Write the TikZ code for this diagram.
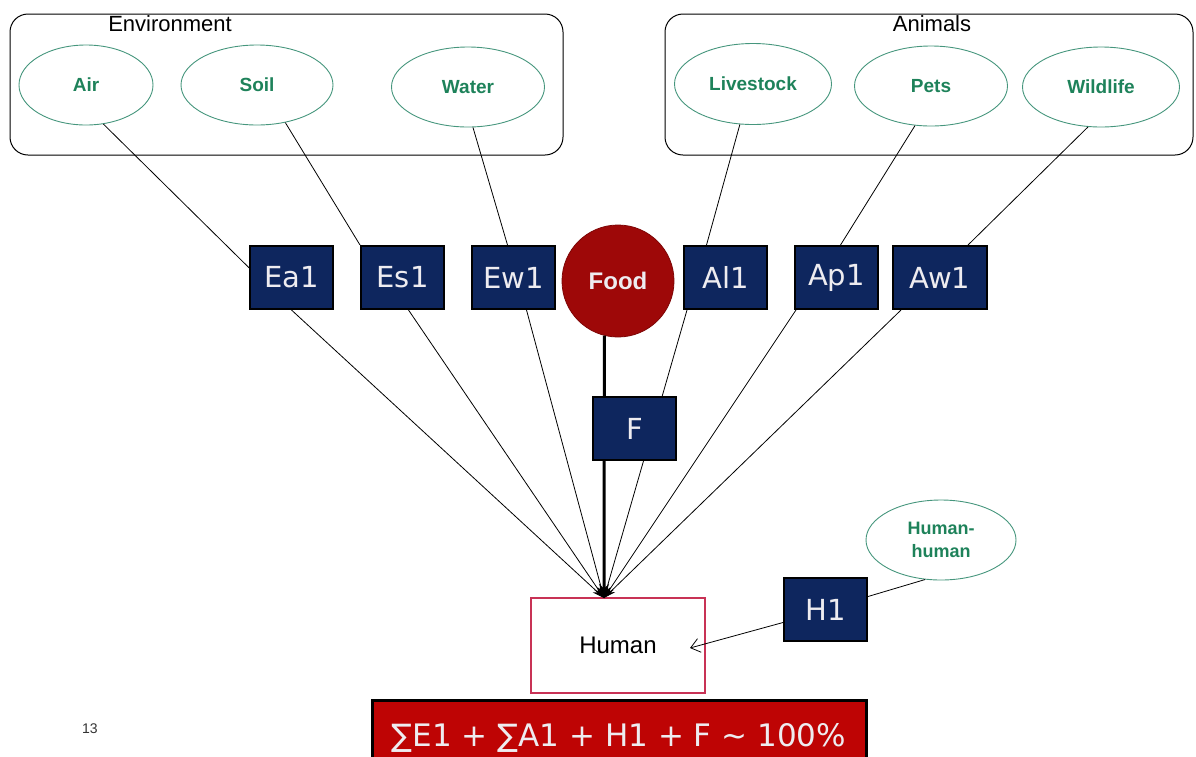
\documentclass[tikz,border=0pt]{standalone}
\usepackage{fontspec}
\setmainfont{Liberation Sans}
\newfontfamily\boxfont{DejaVu Sans}
\usetikzlibrary{shapes.geometric,arrows.meta,calc}
\definecolor{navy}{RGB}{14,38,94}
\definecolor{fooddark}{RGB}{158,8,8}
\definecolor{formred}{RGB}{190,4,4}
\definecolor{ellgreen}{RGB}{30,130,90}
\definecolor{ellline}{RGB}{70,150,125}
\definecolor{humanred}{RGB}{200,50,85}
\definecolor{lighttext}{RGB}{238,236,240}
\tikzset{
  groupbox/.style={draw=black, line width=1pt, rounded corners=18pt, inner sep=0pt},
  grouplabel/.style={font=\fontsize{22}{26}\selectfont, text=black, inner sep=0pt},
  srcell/.style={ellipse, draw=ellline, line width=0.9pt, inner sep=0pt, text=ellgreen,
    font=\fontsize{19}{24}\selectfont\bfseries, align=center},
  factor/.style={rectangle, draw=black, line width=2pt, fill=navy, text=lighttext,
    minimum width=83pt, minimum height=63pt, inner sep=0pt,
    font=\boxfont\fontsize{29}{32}\selectfont},
  link/.style={draw=black, line width=0.8pt},
  flow/.style={draw=black, line width=0.8pt, -{Stealth[length=12pt,width=7pt]}},
}
\begin{document}
\begin{tikzpicture}[x=1pt,y=-1pt]
\useasboundingbox (0,0) rectangle (1196,756);
% group boxes
\node[groupbox, minimum width=553pt, minimum height=141pt] (env) at (286.5,84.5) {};
\node[grouplabel] (envlab) at (170,24) {Environment};
\node[groupbox, minimum width=528pt, minimum height=141pt] (ani) at (929,84.5) {};
\node[grouplabel] (anilab) at (932,24) {Animals};
% sources
\node[srcell, minimum width=134pt, minimum height=80pt] (air) at (86,85) {Air};
\node[srcell, minimum width=152pt, minimum height=80pt] (soil) at (257,85) {Soil};
\node[srcell, minimum width=153pt, minimum height=80pt] (water) at (468,87) {Water};
\node[srcell, minimum width=157pt, minimum height=81pt] (live) at (753,84) {Livestock};
\node[srcell, minimum width=153pt, minimum height=80pt] (pets) at (931,86) {Pets};
\node[srcell, minimum width=157pt, minimum height=80pt] (wild) at (1101,87) {Wildlife};
\node[srcell, minimum width=150pt, minimum height=80pt, font=\fontsize{18}{23}\selectfont\bfseries] (hh) at (941,540) {Human-\\human};
% target
\node[rectangle, draw=humanred, line width=1.5pt, minimum width=174pt, minimum height=95pt,
  font=\fontsize{24}{28}\selectfont] (human) at (618,645.5) {Human};
\coordinate (hin) at (604,598);
\coordinate (hside) at (690,648);
% food and its line (behind F)
\node[circle, fill=fooddark, draw=fooddark!80!black, line width=0.8pt, minimum size=112pt, inner sep=0pt,
  text=lighttext, font=\fontsize{24}{28}\selectfont\bfseries] (food) at (618,281) {Food};
\draw[line width=3pt, -{Stealth[length=14pt,width=10pt]}] (food.-104.5) -- (hin);
% factor boxes
\node[factor] (ea) at (291.5,277.5) {Ea1};
\node[factor] (es) at (402.5,277.5) {Es1};
\node[factor] (ew) at (513.5,277.5) {Ew1};
\node[factor] (al) at (725.5,277.5) {Al1};
\node[factor] (ap) at (836.5,277.5) {Ap1};
\node[factor, minimum width=94pt] (aw) at (940,277.5) {Aw1};
\node[factor] (h1) at (825.5,609.5) {H1};
% upper links
\draw[link] (air.-66) -- ($(ea.north west)!0.35!(ea.south west)$);
\draw[link] (soil.-53) -- (es.north west);
\draw[link] (water.-83) -- ([xshift=-6pt]ew.north);
\draw[link] (live.-108) -- ([xshift=-19pt]al.north);
\draw[link] (pets.-112) -- ([xshift=4pt]ap.north);
\draw[link] (wild.-108) -- ([xshift=28pt]aw.north);
% lower flows
\draw[flow] (ea.south) -- (hin);
\draw[flow] ([xshift=6pt]es.south) -- (hin);
\draw[flow] ([xshift=13pt]ew.south) -- (hin);
\draw[flow] ([xshift=4pt]al.south west) -- (hin);
\draw[flow] ([xshift=2pt]ap.south west) -- (hin);
\draw[flow] ([xshift=9pt]aw.south west) -- (hin);
% F box on top of lines
\node[factor] (f) at (634.5,428.5) {F};
% human-human
\draw[link] ($(h1.north east)!0.3!(h1.south east)$) -- (hh.-112);
\draw[draw=black, line width=0.8pt, -{Straight Barb[length=9pt,width=14pt]}] ($(h1.north west)!0.7!(h1.south west)$) -- (hside);
% formula
\node[rectangle, fill=formred, draw=black, line width=3pt, minimum width=494pt, minimum height=70pt,
  inner sep=0pt, text height=23pt, text depth=0pt, text=lighttext, font=\boxfont\fontsize{31}{34}\selectfont] (formula) at (619,735)
  {∑E1 + ∑A1 + H1 + F \char"007E{} 100\%};
\node[font=\fontsize{14}{16}\selectfont, text=black!80] (pg) at (90,729) {13};
\end{tikzpicture}
\end{document}
